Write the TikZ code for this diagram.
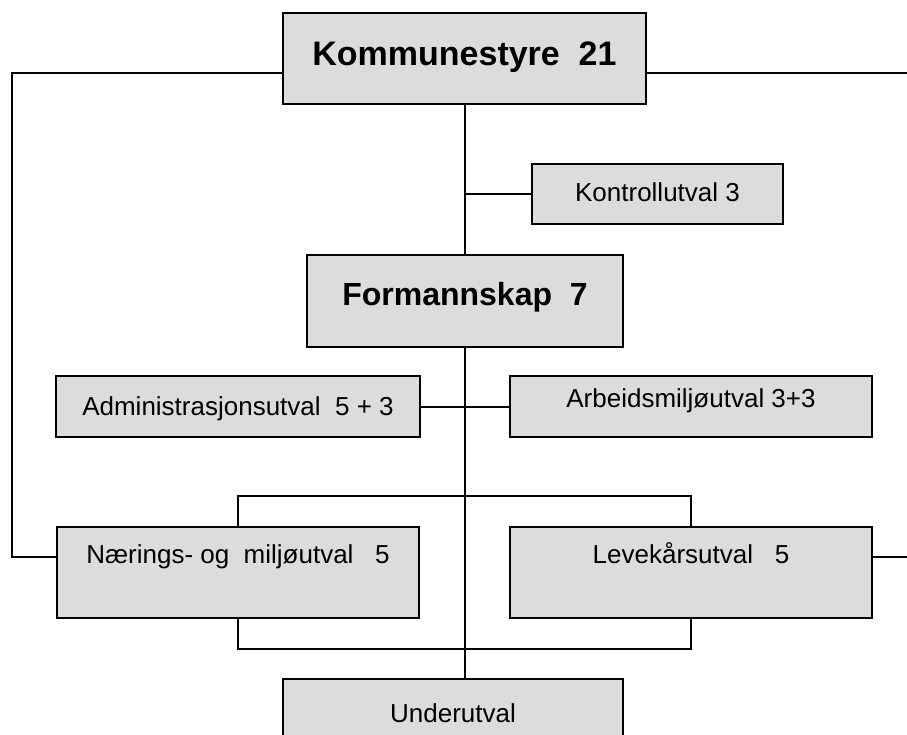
\documentclass[tikz,border=0pt]{standalone}
\usepackage{fontspec}
\setmainfont{Liberation Sans}
\definecolor{boxgray}{RGB}{220,220,220}

\begin{document}
\begin{tikzpicture}[x=1pt,y=-1pt,
  box/.style={draw=black,fill=boxgray,line width=2pt,inner sep=0pt,
    font=\fontsize{26pt}{30pt}\selectfont},
  bigbox/.style={box,font=\fontsize{34pt}{40pt}\selectfont\bfseries},
  link/.style={line width=2pt}]

% Picture frame, the right hand line runs out of it
\useasboundingbox (0,0) rectangle (907,734);
\clip (0,0) rectangle (907,734);

% Draw the boxes
\node[bigbox,minimum width=363pt,text height=52pt,text depth=39pt] (kom) at (464.5,58.5) {Kommunestyre\ \ 21};
\node[box,minimum width=251pt,text height=37pt,text depth=23pt] (kon) at (657.5,194) {Kontrollutval 3};
\node[bigbox,font=\fontsize{32pt}{38pt}\selectfont\bfseries,minimum width=316pt,text height=50pt,text depth=42pt] (form) at (465,301) {Formannskap\ \ 7};
\node[box,minimum width=364pt,text height=39pt,text depth=22pt] (adm) at (238,406.5) {Administrasjonsutval\ \ 5 + 3};
\node[box,minimum width=362pt,text height=31pt,text depth=30pt] (arb) at (691,406.5) {Arbeidsmiljøutval 3+3};
\node[box,minimum width=362pt,text height=36pt,text depth=55pt] (nae) at (238,572.5) {Nærings- og\ \ miljøutval\ \ \ 5};
\node[box,minimum width=362pt,text height=36pt,text depth=55pt] (lev) at (691,572.5) {Levekårsutval\ \ \ 5};
\node[box,minimum width=340pt,text height=43pt,text depth=48pt] (und) at (453,724.5) {Underutval};

% Draw the lines down the middle
\draw[link] (kom.south) -- (kom.south |- form.north);
\draw[link] (kon.west) -- (kon.west -| kom.south);
\draw[link] (form.south) -- (form.south |- und.north);
\draw[link] (adm.east) -- (arb.west);

% Lines above and below the two utval
\draw[link] (nae.north) -- ++(0,-30) -| (lev.north);
\draw[link] (nae.south) -- ++(0,30) -| (lev.south);

% Lines from Kommunestyre out to the sides
\draw[link] (kom.west |- 0,73) -| (12,557) -- (nae.west |- 0,557);
\draw[link] (kom.east |- 0,73) -| (920,557) -- (lev.east |- 0,557);

\end{tikzpicture}
\end{document}
